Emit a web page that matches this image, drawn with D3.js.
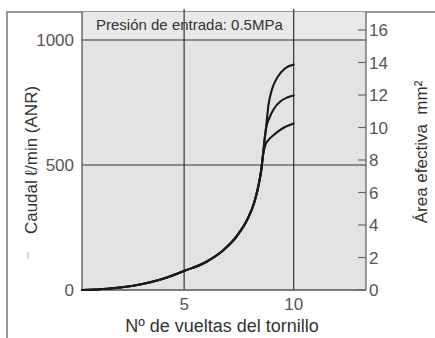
<!DOCTYPE html>
<html><head><meta charset="utf-8">
<script src="https://cdn.jsdelivr.net/npm/d3@7"></script>
<style>body{margin:0;background:#fff}svg{display:block;font-family:"Liberation Sans",Arial,sans-serif}text{white-space:pre}</style>
</head><body><svg id="c" width="435" height="338"></svg>
<script>
// Data
const xTicks = [5, 10];
const yLeftTicks = [0, 500, 1000];
const yRightTicks = [0, 2, 4, 6, 8, 10, 12, 14, 16];
// shared lower part of the curve (turns, flow l/min)
const stemTurns = [0.34, 1.5, 2.68, 4.22, 5.0, 6.0, 6.8, 7.4, 7.9, 8.2, 8.4, 8.52, 8.6];
const stemFlow  = [0, 5, 17, 50, 76, 112, 160, 215, 285, 350, 420, 480, 540];
const topTurns = [8.67, 8.75, 8.85, 9.0, 9.25, 9.6, 10];
const topFlow  = [600, 660, 740, 800, 850, 886, 902];
const midTurns = [8.67, 8.75, 8.9, 9.1, 9.4, 9.7, 10];
const midFlow  = [600, 650, 690, 725, 755, 770, 778];
const lowTurns = [8.7, 8.85, 9.06, 9.52, 10];
const lowFlow  = [578, 600, 618, 648, 666];
const headerText = "Presión de entrada: 0.5MPa";
const xTitle = "Nº de vueltas del tornillo";
const yLeftTitle = "Caudal ℓ/min (ANR)";
const yRightTitle = "Área efectiva  mm²";

const svg = d3.select("#c");
const L = 82, R = 366, T = 12, B = 290, H = 40;
const x = d3.scaleLinear().domain([0.34, 13.3]).range([L, R]);
const yL = d3.scaleLinear().domain([0, 1000]).range([B, H]);
const yR = d3.scaleLinear().domain([0, 16]).range([B, 30]);

// outer frame
svg.append("path").attr("d", `M7,338V${T}H435`).attr("fill", "none").attr("stroke", "#777").attr("stroke-width", 1.5);

// backgrounds
svg.append("rect").attr("x", L).attr("y", T).attr("width", R - L).attr("height", H - T).attr("fill", "#e9e9e9");
svg.append("rect").attr("x", L).attr("y", H).attr("width", R - L).attr("height", B - H).attr("fill", "#e3e3e3");

// grid
const g = svg.append("g").attr("stroke", "#333").attr("stroke-width", 1.2);
yLeftTicks.filter(d => d > 0).forEach(d => {
  g.append("line").attr("x1", L).attr("x2", R).attr("y1", yL(d)).attr("y2", yL(d));
});
xTicks.forEach(d => {
  g.append("line").attr("x1", x(d)).attr("x2", x(d)).attr("y1", B).attr("y2", 9);
});
// borders
svg.append("line").attr("x1", L).attr("x2", L).attr("y1", T).attr("y2", B).attr("stroke", "#555").attr("stroke-width", 1.3);
svg.append("line").attr("x1", L).attr("x2", R).attr("y1", B).attr("y2", B).attr("stroke", "#555").attr("stroke-width", 1.3);
svg.append("line").attr("x1", R).attr("x2", R).attr("y1", T).attr("y2", B).attr("stroke", "#666").attr("stroke-width", 1.3);

// right axis ticks
const ra = svg.append("g");
yRightTicks.forEach(d => {
  ra.append("line").attr("x1", R - 8).attr("x2", R).attr("y1", yR(d)).attr("y2", yR(d)).attr("stroke", "#666").attr("stroke-width", 1.2);
  ra.append("text").attr("x", R + 3).attr("y", yR(d)).attr("dy", "0.36em").attr("font-size", 17).attr("fill", "#555").text(d);
});
// left tick labels
yLeftTicks.forEach(d => {
  svg.append("text").attr("x", 74).attr("y", yL(d)).attr("dy", "0.36em").attr("text-anchor", "end").attr("font-size", 17).attr("fill", "#555").text(d);
});
// x tick labels
xTicks.forEach(d => {
  svg.append("text").attr("x", x(d)).attr("y", 310).attr("text-anchor", "middle").attr("font-size", 17).attr("fill", "#555").text(d);
});

// header text
svg.append("text").attr("x", 96).attr("y", 30).attr("font-size", 15).attr("fill", "#333").text(headerText);

// titles
svg.append("text").attr("x", 222).attr("y", 332).attr("text-anchor", "middle").attr("font-size", 18).attr("fill", "#333").text(xTitle);
svg.append("text").attr("transform", "translate(37,160) rotate(-90)").attr("text-anchor", "middle").attr("font-size", 17).attr("fill", "#333").text(yLeftTitle);
svg.append("text").attr("transform", "translate(427,152) rotate(-90)").attr("text-anchor", "middle").attr("font-size", 17).attr("fill", "#333").text(yRightTitle);
// stray mark
svg.append("line").attr("x1", 28).attr("x2", 28).attr("y1", 252).attr("y2", 259).attr("stroke", "#bbb").attr("stroke-width", 1.2);

// curves: each branch drawn as a full curve sharing the stem
const line = d3.line().x(d => x(d[0])).y(d => yL(d[1])).curve(d3.curveMonotoneX);
const zip = (a, b) => a.map((v, i) => [v, b[i]]);
const stem = zip(stemTurns, stemFlow);
[[topTurns, topFlow], [midTurns, midFlow], [lowTurns, lowFlow]].forEach(([a, b]) => {
  svg.append("path").attr("d", line(stem.concat(zip(a, b)))).attr("fill", "none").attr("stroke", "#1a1a1a").attr("stroke-width", 2.1).attr("stroke-linecap", "round");
});
</script></body></html>
